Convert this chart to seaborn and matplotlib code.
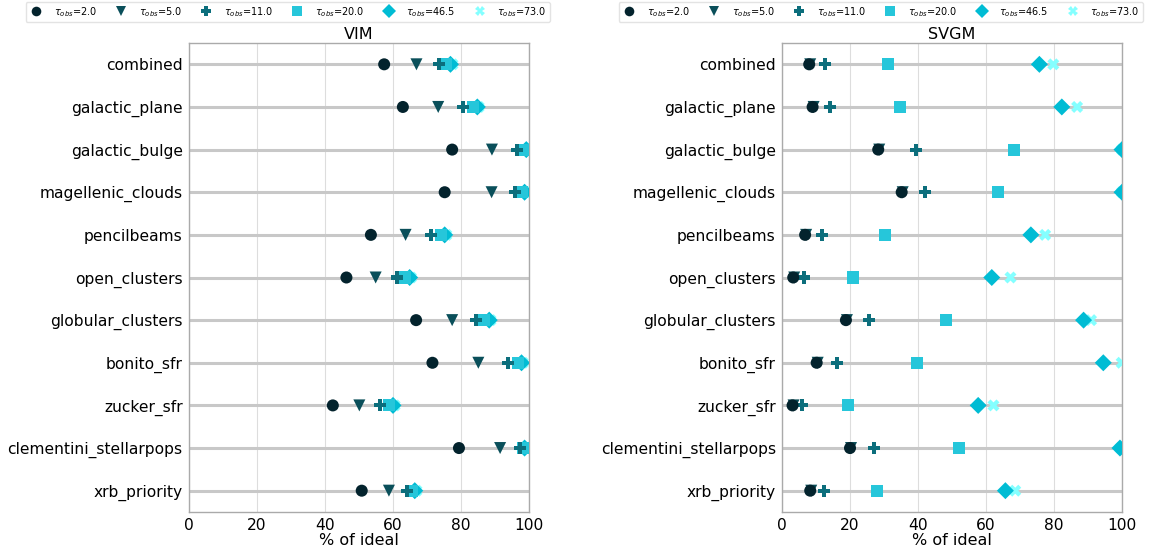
import numpy as np
import pandas as pd
import matplotlib
matplotlib.use("Agg")
import matplotlib.pyplot as plt
import seaborn as sns

categories = ["combined", "galactic_plane", "galactic_bulge", "magellenic_clouds",
              "pencilbeams", "open_clusters", "globular_clusters", "bonito_sfr",
              "zucker_sfr", "clementini_stellarpops", "xrb_priority"]
taus = [2.0, 5.0, 11.0, 20.0, 46.5, 73.0]

vim_tau2 = [57.4, 62.9, 77.4, 75.2, 53.5, 46.3, 66.8, 71.6, 42.3, 79.4, 50.8]
vim_tau5 = [66.9, 73.3, 89.1, 89.0, 63.7, 54.9, 77.4, 85.1, 50.1, 91.5, 58.8]
vim_tau11 = [73.5, 80.6, 96.5, 96.0, 71.2, 61.1, 84.3, 93.8, 56.1, 97.3, 64.0]
vim_tau20 = [75.7, 83.6, 98.2, 97.8, 74.1, 63.5, 86.8, 96.8, 58.8, 98.2, 65.6]
vim_tau46 = [76.9, 84.8, 99.2, 98.7, 75.2, 64.9, 88.3, 97.8, 60.0, 98.7, 66.4]
vim_tau73 = [77.5, 85.2, 99.5, 99.0, 75.7, 65.3, 88.7, 98.2, 60.5, 99.0, 66.9]

svgm_tau2 = [8.0, 9.0, 28.3, 35.2, 6.8, 3.3, 18.8, 10.2, 3.1, 20.0, 8.3]
svgm_tau5 = [8.3, 9.3, 28.6, 35.5, 7.1, 3.6, 19.1, 10.5, 3.4, 20.3, 8.6]
svgm_tau11 = [12.7, 14.2, 39.3, 42.0, 11.7, 6.4, 25.5, 16.3, 6.0, 27.2, 12.3]
svgm_tau20 = [31.1, 34.6, 68.3, 63.5, 30.4, 20.8, 48.1, 39.6, 19.5, 52.1, 28.0]
svgm_tau46 = [75.7, 82.3, 100.0, 100.0, 73.2, 61.7, 88.7, 94.5, 57.7, 99.4, 65.7]
svgm_tau73 = [79.8, 86.8, 100.0, 100.0, 77.4, 67.2, 90.9, 99.9, 62.2, 99.6, 68.6]

colors = ["#03232d", "#0a4f5a", "#0c6e7c", "#26c6da", "#00bcd4", "#84ffff"]
markers = ["o", "v", "P", "s", "D", "X"]
labels = [r"$\tau_{obs}$=" + f"{t:.1f}" for t in taus]

panels = [
    ("VIM", [vim_tau2, vim_tau5, vim_tau11, vim_tau20, vim_tau46, vim_tau73]),
    ("SVGM", [svgm_tau2, svgm_tau5, svgm_tau11, svgm_tau20, svgm_tau46, svgm_tau73]),
]

sns.set_style("white")
plt.rcParams["font.family"] = ["DejaVu Sans"]
plt.rcParams["text.color"] = "black"
plt.rcParams["axes.labelcolor"] = "black"
plt.rcParams["xtick.color"] = "black"
plt.rcParams["ytick.color"] = "black"

fig = plt.figure(figsize=(11.58, 5.52), dpi=100)
W, H = 1158, 552
axes_px = [(189, 43, 340, 469), (782, 43, 340, 469)]

for (title, series), (x0, y0, w, h) in zip(panels, axes_px):
    ax = fig.add_axes([x0 / W, (H - y0 - h) / H, w / W, h / H])
    rows = []
    # larger tau drawn first so smaller tau sit on top
    for lab, vals in reversed(list(zip(labels, series))):
        for c, v in zip(categories, vals):
            rows.append({"category": c, "value": v, "tau": lab})
    df = pd.DataFrame(rows)
    ax.hlines(categories, 0, 100, color="#c8c8c8", lw=2.2, zorder=1)
    sns.scatterplot(data=df, x="value", y="category", hue="tau", style="tau",
                    hue_order=labels, style_order=labels,
                    palette=dict(zip(labels, colors)),
                    markers=dict(zip(labels, markers)),
                    s=75, linewidth=0, ax=ax, zorder=3)
    ax.set_xlim(0, 100)
    ax.set_ylim(len(categories) - 0.5, -0.5)
    ax.set_xticks([0, 20, 40, 60, 80, 100])
    ax.grid(axis="x", color="#dddddd", lw=0.8, zorder=0)
    ax.grid(axis="y", visible=False)
    ax.set_axisbelow(True)
    ax.set_title(title, fontsize=11.5, pad=3, color="black")
    ax.set_xlabel("% of ideal", fontsize=11.5, labelpad=0)
    ax.set_ylabel("")
    ax.tick_params(axis="both", labelsize=11.2, length=3, color="#aaaaaa",
                   labelcolor="black", pad=1.5)
    for sp in ax.spines.values():
        sp.set_color("#aaaaaa")
        sp.set_linewidth(1)
    sns.move_legend(ax, "upper center", bbox_to_anchor=(0.29, 1.098), ncol=6,
                    title=None, frameon=True, fontsize=7, markerscale=0.8,
                    columnspacing=1.7, handletextpad=1.0, borderpad=0.3,
                    handlelength=1.6)
    ax.get_legend().get_frame().set_edgecolor("#dddddd")

fig.savefig("out.png", dpi=100)
